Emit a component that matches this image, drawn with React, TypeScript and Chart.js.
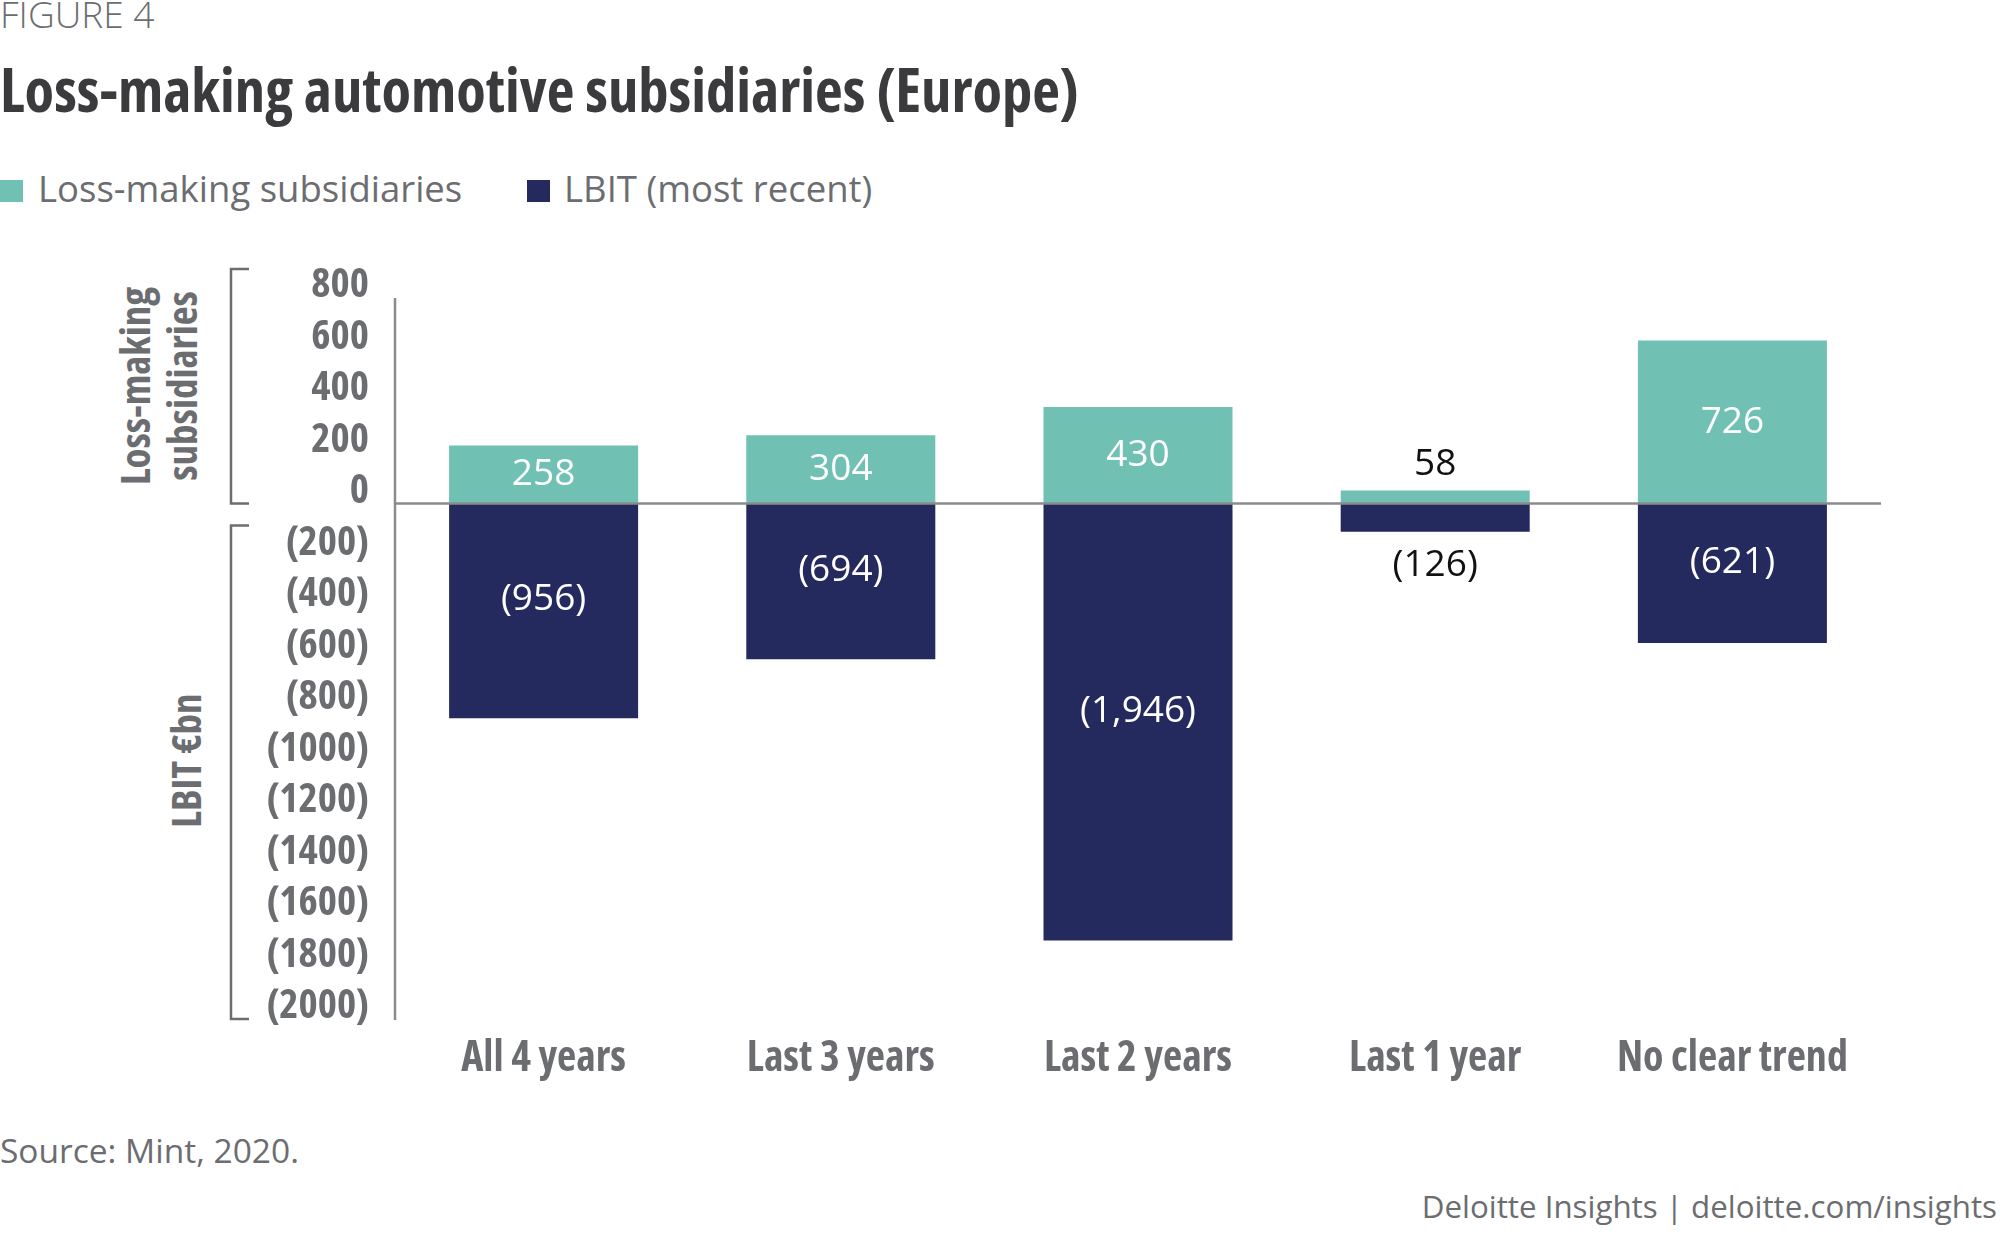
import React, { useEffect, useRef } from "react";
import { Chart, registerables } from "chart.js";

Chart.register(...registerables);

// ---------- data ----------
const CATEGORIES = ["All 4 years", "Last 3 years", "Last 2 years", "Last 1 year", "No clear trend"];
const LOSS_MAKING = [258, 304, 430, 58, 726];
const LBIT = [-956, -694, -1946, -126, -621];
const TICK_VALUES = [800, 600, 400, 200, 0, -200, -400, -600, -800, -1000, -1200, -1400, -1600, -1800, -2000];
const SERIES_NAMES = ["Loss-making subsidiaries", "LBIT (most recent)"];

// ---------- style ----------
const FONT = "'Open Sans', 'Noto Sans', sans-serif";
const TEAL = "#70c1b3";
const NAVY = "#252a5e";
const GRAY = "#6b6d71";
const AXIS = "#8a8b8d";
const TITLE = "#3b3b3d";
const COND_BOLD = "condensed bold";

const CANVAS_TOP = 240;
const CANVAS_H = 860;

const fmtTick = (v: number) => (v < 0 ? `(${Math.abs(v)})` : `${v}`);
const fmtVal = (v: number) => (v < 0 ? `(${Math.abs(v).toLocaleString("en-US")})` : `${v}`);

const decorPlugin = {
  id: "decor",
  afterDatasetsDraw(chart: any) {
    const { ctx, chartArea } = chart;
    const y = chart.scales.y;
    const zero = y.getPixelForValue(0);
    ctx.save();
    // zero line
    ctx.strokeStyle = AXIS;
    ctx.lineWidth = 2.5;
    ctx.beginPath();
    ctx.moveTo(chartArea.left, zero);
    ctx.lineTo(chartArea.right, zero);
    ctx.stroke();
    // vertical axis line
    ctx.lineWidth = 2.5;
    ctx.beginPath();
    ctx.moveTo(chartArea.left, chartArea.top + 28);
    ctx.lineTo(chartArea.left, chartArea.bottom);
    ctx.stroke();
    // brackets
    ctx.strokeStyle = GRAY;
    ctx.lineWidth = 2.5;
    const bx = 231;
    const drawBracket = (t: number, b: number) => {
      ctx.beginPath();
      ctx.moveTo(bx + 18, t);
      ctx.lineTo(bx, t);
      ctx.lineTo(bx, b);
      ctx.lineTo(bx + 18, b);
      ctx.stroke();
    };
    drawBracket(chartArea.top - 1, zero);
    drawBracket(zero + 22, chartArea.bottom - 1);

    // value labels
    ctx.font = `normal 400 37px ${FONT}`;
    ctx.textAlign = "center";
    ctx.textBaseline = "middle";
    chart.data.datasets.forEach((ds: any, di: number) => {
      const meta = chart.getDatasetMeta(di);
      meta.data.forEach((bar: any, i: number) => {
        const v = ds.data[i] as number;
        const { x, y: yy, base } = bar.getProps(["x", "y", "base"], true);
        const h = Math.abs(base - yy);
        const text = fmtVal(v);
        if (h < 40) {
          ctx.fillStyle = "#111111";
          if (v >= 0) ctx.fillText(text, x, yy - 26);
          else ctx.fillText(text, x, yy + 34);
        } else {
          ctx.fillStyle = "#ffffff";
          const c = (yy + base) / 2;
          ctx.fillText(text, x, v >= 0 ? c : c - 11);
        }
      });
    });
    ctx.restore();
  },
};

export default function App() {
  const ref = useRef<HTMLCanvasElement>(null);

  useEffect(() => {
    const canvas = ref.current!;
    const chart = new Chart(canvas, {
      type: "bar",
      data: {
        labels: CATEGORIES,
        datasets: [
          { label: SERIES_NAMES[0], data: LOSS_MAKING, backgroundColor: TEAL, yAxisID: "y", stack: "s" },
          { label: SERIES_NAMES[1], data: LBIT, backgroundColor: NAVY, yAxisID: "y", stack: "s" },
        ],
      },
      options: {
        responsive: false,
        animation: false,
        devicePixelRatio: 1,
        layout: { padding: { left: 0, right: 119, top: 30, bottom: 0 } },
        plugins: { legend: { display: false }, tooltip: { enabled: false } },
        datasets: { bar: { barPercentage: 0.636, categoryPercentage: 1 } } as any,
        scales: {
          x: {
            stacked: true,
            grid: { display: false, drawTicks: false },
            border: { display: false },
            ticks: { padding: 14, color: GRAY, font: { family: FONT, size: 42, weight: COND_BOLD as any } },
            afterFit: (s: any) => {
              s.height = 80;
              s.paddingLeft = 0;
              s.paddingRight = 0;
            },
          },
          y: {
            stacked: true,
            display: false,
            min: -2300,
            max: 1040,
            afterFit: (s: any) => {
              s.paddingTop = 0;
              s.paddingBottom = 0;
            },
          },
          yt: {
            position: "left",
            min: -2052,
            max: 860,
            grid: { display: false, drawTicks: false },
            border: { display: false },
            ticks: {
              padding: 26,
              color: GRAY,
              font: { family: FONT, size: 41, weight: COND_BOLD as any },
              callback: (v: any) => fmtTick(Number(v)),
            },
            afterBuildTicks: (s: any) => {
              s.ticks = TICK_VALUES.map((v) => ({ value: v }));
            },
            afterFit: (s: any) => {
              s.width = 395;
              s.paddingTop = 0;
              s.paddingBottom = 0;
            },
          },
        },
      },
      plugins: [decorPlugin],
    });
    return () => chart.destroy();
  }, []);

  const abs = (o: React.CSSProperties): React.CSSProperties => ({ position: "absolute", whiteSpace: "nowrap", ...o });
  const cond: React.CSSProperties = { fontWeight: 700, fontStretch: "condensed" };

  return (
    <div style={{ position: "absolute", left: 0, top: 0, width: 2000, height: 1236, background: "#fff", fontFamily: FONT, overflow: "hidden" }}>
      <div style={abs({ left: 0, top: -5, fontSize: 37, lineHeight: "37px", fontWeight: 300, color: GRAY })}>FIGURE 4</div>
      <div style={abs({ left: 0, top: 58, fontSize: 60.6, lineHeight: "61px", color: TITLE, ...cond })}>
        Loss-making automotive subsidiaries (Europe)
      </div>

      {/* legend */}
      <div style={abs({ left: 0, top: 180, width: 23, height: 22, background: TEAL })} />
      <div style={abs({ left: 38, top: 170, fontSize: 36.5, lineHeight: "36.5px", color: GRAY })}>{SERIES_NAMES[0]}</div>
      <div style={abs({ left: 527, top: 180, width: 23, height: 22, background: NAVY })} />
      <div style={abs({ left: 564, top: 170, fontSize: 36.5, lineHeight: "36.5px", color: GRAY })}>{SERIES_NAMES[1]}</div>

      {/* rotated axis titles */}
      <div
        style={abs({
          left: 158 - 150,
          top: 386 - 47,
          width: 300,
          height: 94,
          fontSize: 41,
          lineHeight: "47px",
          color: GRAY,
          textAlign: "center",
          transform: "rotate(-90deg)",
          transformOrigin: "center",
          ...cond,
        })}
      >
        Loss-making
        <br />
        subsidiaries
      </div>
      <div
        style={abs({
          left: 185 - 150,
          top: 761 - 24,
          width: 300,
          height: 47,
          fontSize: 41,
          lineHeight: "47px",
          color: GRAY,
          textAlign: "center",
          transform: "rotate(-90deg)",
          transformOrigin: "center",
          ...cond,
        })}
      >
        LBIT €bn
      </div>

      <canvas
        ref={ref}
        width={2000}
        height={CANVAS_H}
        style={{ position: "absolute", left: 0, top: CANVAS_TOP, width: 2000, height: CANVAS_H }}
      />

      {/* footer */}
      <div style={abs({ left: 0, top: 1134, fontSize: 33.5, lineHeight: "33.5px", color: GRAY })}>Source: Mint, 2020.</div>
      <div style={abs({ right: 3, top: 1191, fontSize: 31.3, lineHeight: "31.5px", color: GRAY })}>
        Deloitte Insights | deloitte.com/insights
      </div>
    </div>
  );
}
